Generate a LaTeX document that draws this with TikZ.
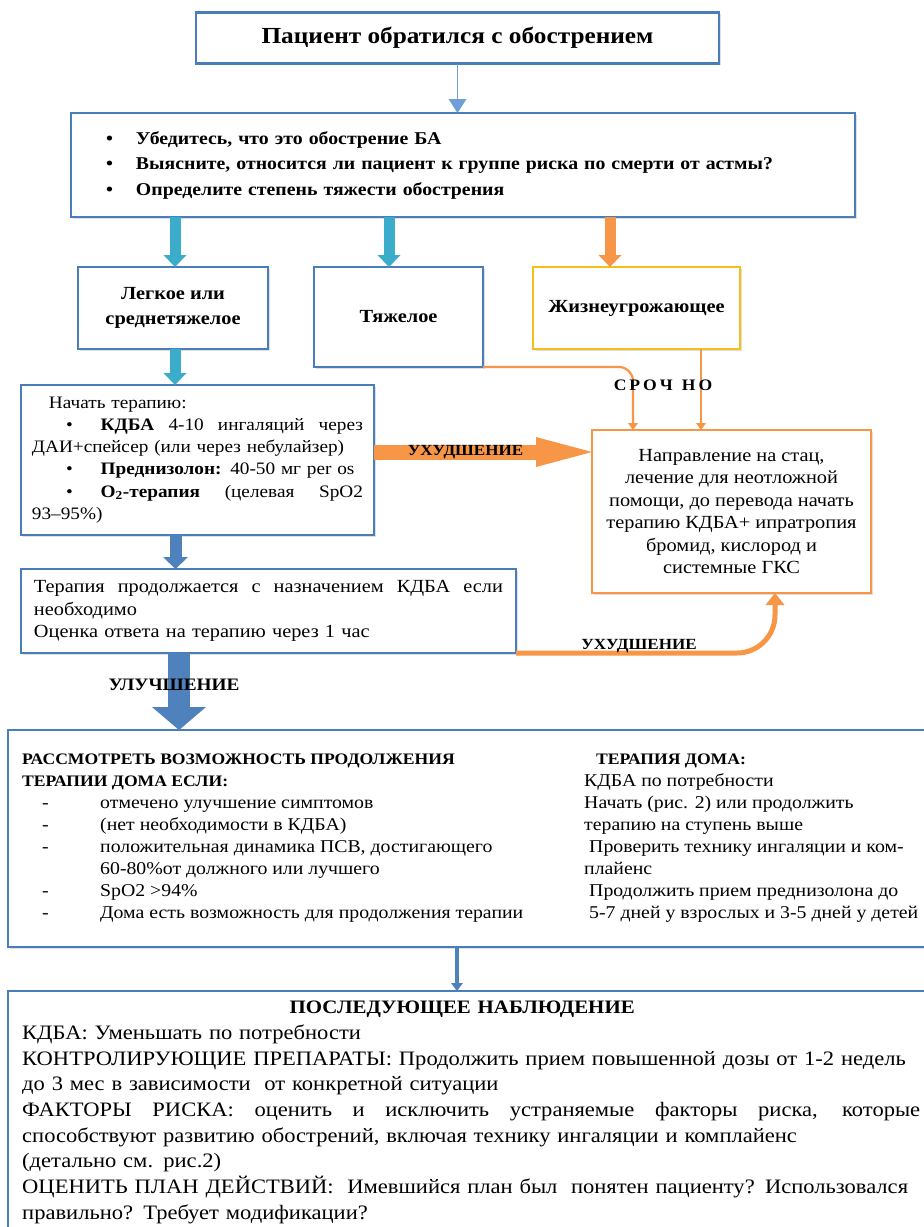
\documentclass[tikz,border=0pt]{standalone}
\usepackage{fontspec}
\setmainfont{Liberation Serif}[FakeStretch=1.1]
\usepackage{xcolor}
\usetikzlibrary{calc}
\usetikzlibrary{positioning}
\usetikzlibrary{arrows.meta}
\usetikzlibrary{shadows}

\definecolor{boxblue}{RGB}{74,126,187}
\definecolor{lifegold}{RGB}{245,190,30}
\definecolor{orangeb}{RGB}{247,150,70}
\definecolor{tealb}{RGB}{60,172,203}
\definecolor{arrowblue}{RGB}{79,129,189}
\definecolor{thinblue}{RGB}{110,160,215}

\newcommand{\justline}[2]{\makebox[#1][s]{\spaceskip=0pt\xspaceskip=0pt #2}}

\begin{document}
\begin{tikzpicture}[
    x = 1pt,
    y = -1pt,
    font = \fontsize{18.5}{22.2}\selectfont,
    boxf/.style = {
      rectangle,
      draw=boxblue,
      fill=white,
      line width=2.2pt,
      drop shadow={opacity=.25, shadow xshift=1.5pt, shadow yshift=-1.5pt},
      inner sep=0pt,
      outer sep=0pt
    },
    lifef/.style = {
      boxf,
      draw=lifegold,
      line width=2.6pt
    },
    hospf/.style = {
      boxf,
      draw=orangeb,
      align=center
    },
    headf/.style = {
      font=\fontsize{18.5}{25}\selectfont\bfseries,
      align=center
    },
    worsef/.style = {
      font=\fontsize{15.5}{18}\selectfont\bfseries,
      inner sep=0pt
    },
    tealarr/.style = {
      draw=tealb,
      line width=11pt,
      -{Triangle[width=23pt,length=12pt,line width=0pt]}
    },
    orangesmall/.style = {
      tealarr,
      draw=orangeb
    },
    orangeline/.style = {
      draw=orangeb,
      line width=2.2pt,
      rounded corners=14pt,
      -{Triangle[width=10pt,length=7pt,line width=0pt]}
    },
    bigorange/.style = {
      draw=orangeb,
      line width=15pt,
      -{Triangle[width=30pt,length=56pt,line width=0pt]}
    },
    orangethick/.style = {
      draw=orangeb,
      line width=5pt,
      rounded corners=38pt,
      -{Triangle[width=19pt,length=12pt,line width=0pt]}
    },
    bluearr/.style = {
      draw=arrowblue,
      line width=12pt,
      -{Triangle[width=25pt,length=12pt,line width=0pt]}
    },
    bigblue/.style = {
      draw=arrowblue,
      line width=22pt,
      -{Triangle[width=54pt,length=23pt,line width=0pt]}
    },
    thinarr/.style = {
      draw=thinblue,
      line width=1.6pt,
      -{Triangle[width=18pt,length=14pt,line width=0pt]}
    },
    thinarrb/.style = {
      draw=arrowblue,
      line width=3.5pt,
      -{Triangle[width=12pt,length=8pt,line width=0pt]}
    }
  ]
    \fill[white] (0,0) rectangle (924,1227);
    \useasboundingbox (0,0) rectangle (924,1227);

    \node[boxf, minimum width=523pt, minimum height=51pt, font=\fontsize{23}{26}\selectfont\bfseries] (top) at (457.5,38) {Пациент обратился с обострением};

    \node[boxf, minimum width=784pt, minimum height=104pt, text width=714pt, inner xsep=35pt, align=left, font=\fontsize{18}{25.5}\selectfont\bfseries] (check) at (463,165) {\makebox[30pt][l]{•}Убедитесь, что это обострение БА\\
      \makebox[30pt][l]{•}Выясните, относится ли пациент к группе риска по смерти от астмы?\\
      \makebox[30pt][l]{•}Определите степень тяжести обострения};

    \node[boxf, headf, minimum width=190pt, minimum height=82pt] (mild) at (173,308) {Легкое или\\среднетяжелое};
    \node[boxf, headf, minimum width=169pt, minimum height=100pt] (severe) at (398.5,317) {Тяжелое};
    \node[lifef, headf, minimum width=207pt, minimum height=82pt] (life) at (636.5,308) {Жизнеугрожающее};

    \node[boxf, minimum width=353pt, minimum height=150pt, text width=331pt, inner xsep=11pt, align=left, font=\fontsize{17.5}{22.2}\selectfont] (start) at (197.5,460) {\hspace*{17pt}Начать терапию:\\
      \justline{331pt}{\hspace*{34pt}•\hspace*{28pt}\textbf{КДБА} 4-10 ингаляций через}\\
      ДАИ+спейсер (или через небулайзер)\\
      \hspace*{34pt}•\hspace*{28pt}\textbf{Преднизолон:} 40-50 мг per os\\
      \justline{331pt}{\hspace*{34pt}•\hspace*{28pt}\textbf{O\textsubscript{2}-терапия} (целевая SpO2}\\
      93–95\%)};

    \node[hospf, minimum width=279pt, minimum height=163pt, font=\fontsize{18.5}{22.4}\selectfont] (hosp) at (731.5,511.5) {Направление на стац,\\лечение для неотложной\\помощи, до перевода начать\\терапию КДБА+ ипратропия\\бромид, кислород и\\системные ГКС};

    \node[boxf, minimum width=495pt, minimum height=84pt, text width=469pt, inner xsep=13pt, align=left] (cont) at (268.5,611) {\justline{469pt}{Терапия продолжается с назначением КДБА если}\\
      необходимо\\
      Оценка ответа на терапию через 1 час};

    \node[boxf, minimum width=927pt, minimum height=217pt] (home) at (471.5,838.5) {};
    \node[anchor=north west, inner sep=0pt, align=left, font=\fontsize{18}{21.9}\selectfont] (homeleft) at (22,754) {{\fontsize{16}{21.9}\selectfont\bfseries РАССМОТРЕТЬ ВОЗМОЖНОСТЬ ПРОДОЛЖЕНИЯ}\\
      {\fontsize{16}{21.9}\selectfont\bfseries ТЕРАПИИ ДОМА ЕСЛИ:}\\
      \makebox[78pt][l]{\hspace*{20pt}-}отмечено улучшение симптомов\\
      \makebox[78pt][l]{\hspace*{20pt}-}(нет необходимости в КДБА)\\
      \makebox[78pt][l]{\hspace*{20pt}-}положительная динамика ПСВ, достигающего\\
      \makebox[78pt][l]{}60-80\%от должного или лучшего\\
      \makebox[78pt][l]{\hspace*{20pt}-}SpO2 >94\%\\
      \makebox[78pt][l]{\hspace*{20pt}-}Дома есть возможность для продолжения терапии};
    \node[anchor=north west, inner sep=0pt, align=left, font=\fontsize{18}{21.9}\selectfont] (homeright) at (584,754) {\hspace*{12pt}{\fontsize{16}{21.9}\selectfont\bfseries ТЕРАПИЯ ДОМА:}\\
      КДБА по потребности\\
      Начать (рис. 2) или продолжить\\
      терапию на ступень выше\\
      \hspace*{5pt}Проверить технику ингаляции и ком-\\
      плайенс\\
      \hspace*{5pt}Продолжить прием преднизолона до\\
      \hspace*{5pt}5-7 дней у взрослых и 3-5 дней у детей};

    \node[boxf, minimum width=927pt, minimum height=270pt] (follow) at (471.5,1126) {};
    \node[anchor=north west, inner sep=0pt, text width=990pt, align=left, font=\fontsize{20.5}{25.7}\selectfont] (followtext) at (22,1001) {\makebox[902pt]{\hspace*{-22pt}{\fontsize{19}{25.7}\selectfont\bfseries ПОСЛЕДУЮЩЕЕ НАБЛЮДЕНИЕ}}\\
      КДБА: Уменьшать по потребности\\
      КОНТРОЛИРУЮЩИЕ ПРЕПАРАТЫ: Продолжить прием повышенной дозы от 1-2 недель\\
      до 3 мес в зависимости \ от конкретной ситуации\\
      \justline{898pt}{ФАКТОРЫ РИСКА: оценить и исключить устраняемые факторы риска, которые}\\
      способствуют развитию обострений, включая технику ингаляции и комплайенс\\
      (детально см. рис.2)\\
      ОЦЕНИТЬ ПЛАН ДЕЙСТВИЙ: \ Имевшийся план был \ понятен пациенту? Использовался\\
      правильно? Требует модификации?};

    \draw[thinarr] (top.south) -- (top.south |- check.north);
    \draw[tealarr] ([xshift=2pt]mild.north |- check.south) -- ([xshift=2pt]mild.north);
    \draw[tealarr] ([xshift=-9.5pt]severe.north |- check.south) -- ([xshift=-9.5pt]severe.north);
    \draw[orangesmall] ([xshift=-26.5pt]life.north |- check.south) -- ([xshift=-26.5pt]life.north);
    \draw[tealarr] ([xshift=2pt]mild.south) -- ([xshift=2pt]mild.south |- start.north);

    \draw[orangeline] (severe.south east) -| ([xshift=-98.5pt]hosp.north);
    \draw[orangeline] ([xshift=64.5pt]life.south) -- ([xshift=64.5pt]life.south |- hosp.north);
    \node[worsef, font=\fontsize{16}{18}\selectfont\bfseries] (urgent) at (663,385) {С\hspace{3pt}Р\hspace{3pt}О\hspace{3pt}Ч\hspace{9pt}Н\hspace{3pt}О};

    \draw[bigorange] ([yshift=8pt]start.east) -- ([yshift=8pt]start.east -| hosp.west) node[worsef, pos=.42] (worse1) {УХУДШЕНИЕ};

    \draw[bluearr] ([xshift=-22pt]start.south) -- ([xshift=-22pt]start.south |- cont.north);
    \draw[orangethick] (cont.south east) -| ([xshift=43.5pt]hosp.south);
    \node[worsef] (worse2) at (639,646) {УХУДШЕНИЕ};

    \draw[bigblue] ([xshift=-89.5pt]cont.south) -- ([xshift=-89.5pt]cont.south |- home.north);
    \node[worsef, font=\fontsize{17.5}{20}\selectfont\bfseries] (better) at (174,685) {УЛУЧШЕНИЕ};

    \draw[thinarrb] ([xshift=-14.5pt]home.south) -- ([xshift=-14.5pt]home.south |- follow.north);
  \end{tikzpicture}
\end{document}
